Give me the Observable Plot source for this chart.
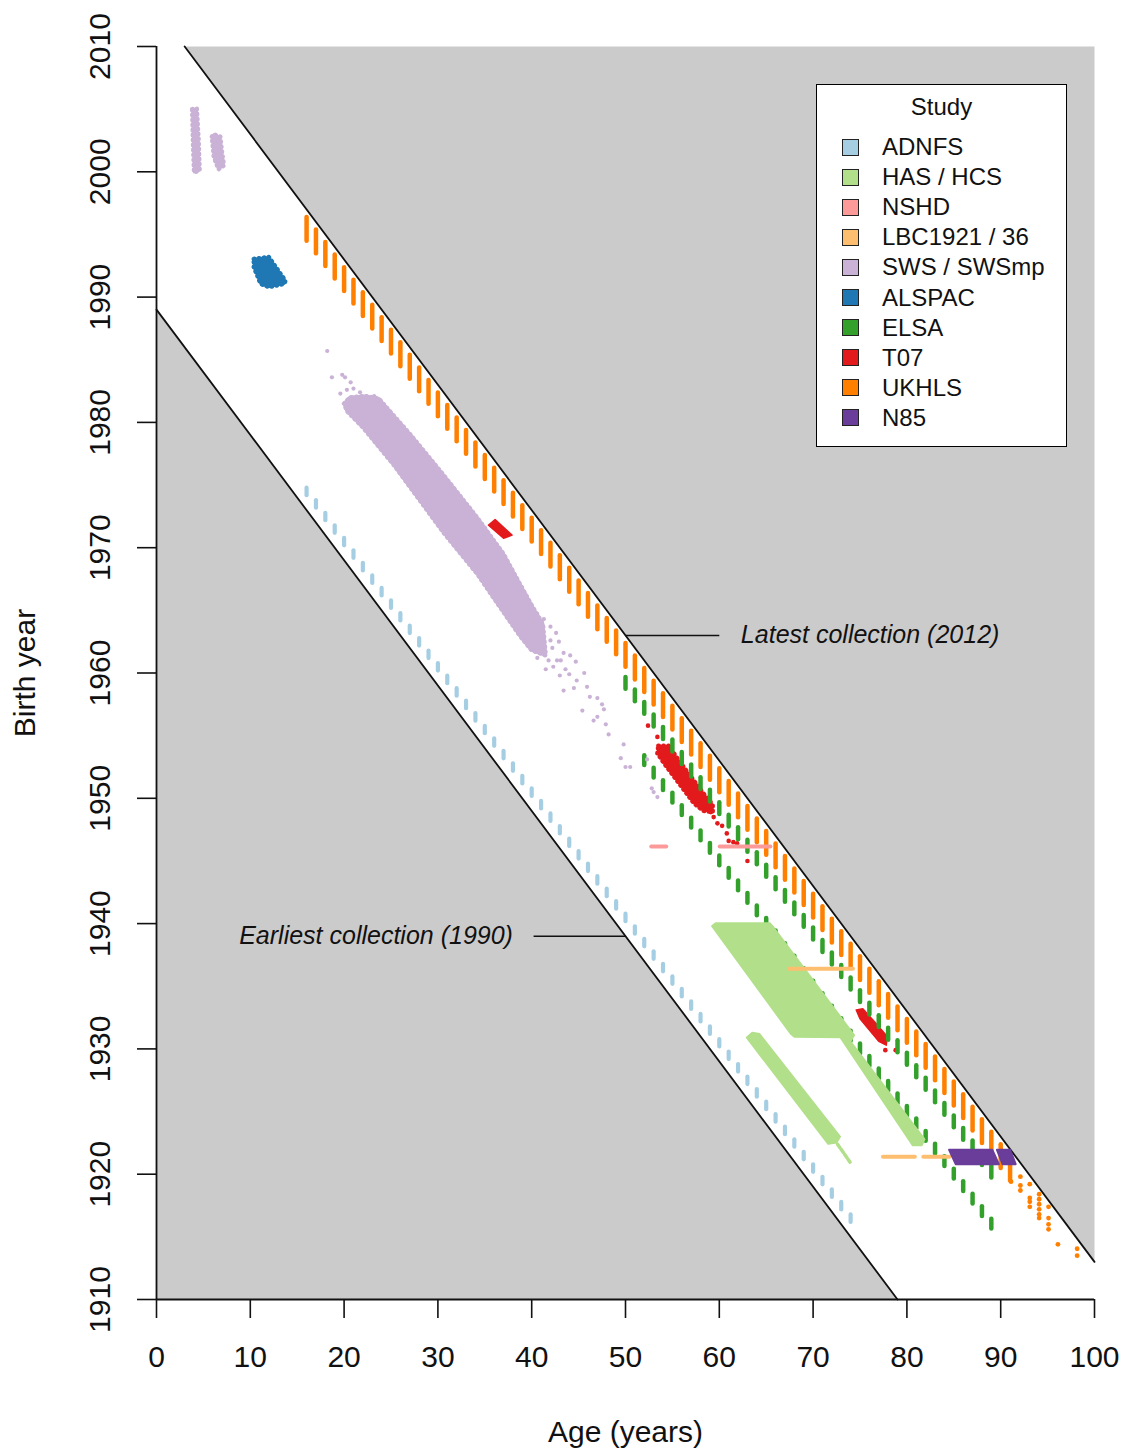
<!DOCTYPE html>
<html><head><meta charset="utf-8">
<script src="https://cdn.jsdelivr.net/npm/d3@7"></script>
<script src="https://cdn.jsdelivr.net/npm/@observablehq/plot@0.6"></script>
<style>
body{margin:0;background:#fff;font-family:"Liberation Sans",Arial,sans-serif;}
#wrap{position:relative;width:1123px;height:1449px;}
#legend{position:absolute;left:816px;top:84px;width:249px;height:361px;border:1.5px solid #000;background:#fff;box-sizing:content-box;}
#legend .title{position:absolute;left:0;width:100%;top:8px;text-align:center;font-size:24px;color:#111;}
#legend .item{position:absolute;left:25px;height:30px;display:flex;align-items:center;font-size:24px;color:#111;}
#legend .sw{width:15px;height:15px;border:1px solid #222;margin-right:23px;}
</style></head><body><div id="wrap"></div>
<script>
// ---- studies & colours ----
const studies = ["ADNFS","HAS / HCS","NSHD","LBC1921 / 36","SWS / SWSmp","ALSPAC","ELSA","T07","UKHLS","N85"];
const studyColors = ["#a6cee3","#b2df8a","#fb9a99","#fdbf6f","#cab2d6","#1f78b4","#33a02c","#e31a1c","#ff7f00","#6a3d9a"];
const col = Object.fromEntries(studies.map((s,i)=>[s,studyColors[i]]));

// ---- axes ----
const xTicks = [0,10,20,30,40,50,60,70,80,90,100];
const yTicks = [1910,1920,1930,1940,1950,1960,1970,1980,1990,2000,2010];

// ---- collection boundary lines (age, birth year) ----
const earliestLine = [[0,1989],[79,1910]];
const latestLine = [[3,2010],[100,1913]];
const greyLower = [[0,1989],[79,1910],[0,1910]];
const greyUpper = [[3,2010],[100,1913],[100,2010]];

// ---- dash studies: ages interviewed and the collection window (birth year + age) ----
const ukhlsAges = [16,17,18,19,20,21,22,23,24,25,26,27,28,29,30,31,32,33,34,35,36,37,38,39,40,41,42,43,44,45,46,47,48,49,50,51,52,53,54,55,56,57,58,59,60,61,62,63,64,65,66,67,68,69,70,71,72,73,74,75,76,77,78,79,80,81,82,83,84,85,86,87,88,89,90,91];
const ukhlsWindow = [2010.45, 2012.35];
const adnfsAges = [16,17,18,19,20,21,22,23,24,25,26,27,28,29,30,31,32,33,34,35,36,37,38,39,40,41,42,43,44,45,46,47,48,49,50,51,52,53,54,55,56,57,58,59,60,61,62,63,64,65,66,67,68,69,70,71,72,73,74];
const adnfsWindow = [1990.15, 1990.75];
const elsaLateAges = [50,51,52,53,54,55,56,57,58,59,60,61,62,63,64,65,66,67,68,69,70,71,72,73,74,75,76,77,78,79,80,81,82,83,84,85,86,87,88,89];
const elsaLateWindow = [2008.7, 2009.65];
const elsaEarlyAges = [52,53,54,55,56,57,58,59,60,61,62,63,64,65,66,67,68,69,70,71,72,73,74,75,76,77,78,79,80,81,82,83,84,85,86,87,88,89];
const elsaEarlyWindow = [2004.62, 2005.4];

// UKHLS oldest respondents (age, birth year)
const ukhlsOldDots = [[91.1,1919.4],[92.1,1919.8],[92.1,1919.1],[92.1,1918.7],[93.1,1919.2],[93.1,1918.1],[93.1,1917.8],[93.1,1917.4],[94.1,1918.4],[94.1,1918.0],[94.1,1917.6],[94.1,1917.2],[94.1,1916.8],[94.1,1916.5],[95.1,1917.4],[95.1,1916.5],[95.1,1916.0],[95.1,1915.6],[96.1,1914.4],[98.15,1914.05],[98.15,1913.5]];

// ---- polygons (age, birth year) ----
const hasMain = [[59.2,1939.8],[59.6,1940.05],[65.4,1940.05],[65.8,1939.7],[74.4,1931.1],[74.0,1930.6],[81.9,1922.8],[81.6,1922.3],[80.6,1922.3],[72.9,1930.9],[68.0,1930.95],[67.6,1931.2]];
const hasLower = [[62.9,1930.9],[63.5,1931.3],[64.3,1931.2],[72.9,1923.0],[72.5,1922.5],[71.6,1922.4]];
const hasLowerTail = [[72.6,1922.4],[74.0,1920.9]];
const swsDense = [[20.0,1981.5],[20.6,1982.0],[22.3,1982.1],[23.7,1981.9],[27.1,1979.0],[30.6,1975.8],[34.2,1972.4],[37.0,1969.5],[38.6,1967.3],[40.0,1965.4],[41.2,1963.9],[41.5,1961.4],[40.0,1961.8],[38.8,1962.9],[36.3,1965.6],[34.2,1967.9],[30.6,1971.2],[25.3,1976.6],[22.0,1979.6],[20.3,1980.9]];
const swsChildA = [[3.8,2005.0],[4.3,2005.05],[4.5,2002.5],[4.6,2000.1],[4.0,1999.95],[3.9,2002.0]];
const swsChildB = [[5.9,2002.8],[6.1,2003.0],[6.8,2002.8],[7.0,2001.5],[7.2,2000.5],[6.6,2000.2],[6.1,2001.2]];
const swsDots = [[18.2,1985.7],[18.7,1983.6],[19.8,1983.8],[20.1,1983.6],[20.7,1983.2],[21.0,1982.7],[21.7,1982.4],[21.9,1982.1],[22.6,1981.8],[23.2,1982.1],[19.6,1982.3],[20.3,1982.6],
  [39.2,1966.1],[39.9,1965.3],[40.6,1964.7],[41.3,1964.3],[42.0,1963.7],[42.9,1962.5],[43.4,1961.6],[42.0,1962.6],[42.7,1961.0],[43.6,1960.3],[44.7,1960.9],[45.6,1960.0],[44.8,1959.4],[43.4,1958.6],[44.5,1958.8],[45.9,1958.9],[47.0,1958.0],[47.5,1957.5],[47.7,1957.1],[45.4,1957.0],[46.6,1956.2],[47.0,1956.5],[47.9,1955.9],[48.2,1955.1],[49.8,1954.3],[49.5,1953.2],[50.0,1952.5],[50.5,1952.5],[52.3,1953.1],[52.8,1950.8],[53.4,1950.1],[53.0,1950.5],
  [41.8,1961.0],[42.3,1960.5],[41.5,1960.3],[43.0,1959.8],[40.6,1961.2],[44.0,1959.9],[46.2,1958.1],[44.1,1961.4],[42.6,1963.2],[39.6,1963.8],[42.2,1962.0],[41.0,1962.9],[43.1,1961.0],[40.1,1964.0]];
const alspac = [[10.37,1993.05],[11.97,1993.2],[13.75,1991.3],[13.6,1991.05],[11.97,1990.8],[11.1,1991.05],[10.37,1992.4]];
const t07Young = [[35.4,1971.8],[36.1,1972.25],[37.9,1971.0],[37.0,1970.75]];
const t07Mid = [[53.5,1954.2],[54.6,1954.2],[55.8,1952.9],[57.5,1951.2],[58.5,1950.2],[59.3,1949.5],[59.3,1948.9],[58.3,1949.0],[57.3,1949.6],[55.5,1951.4],[54.1,1952.8],[53.4,1953.6]];
const t07Old = [[74.6,1933.1],[75.3,1933.2],[76.5,1932.2],[77.9,1931.0],[77.8,1930.3],[77.0,1930.6],[75.0,1932.4]];
const t07Dots = [[52.4,1955.8],[53.4,1954.9],[53.7,1954.1],[59.1,1948.9],[59.4,1948.5],[59.8,1948.0],[60.3,1947.8],[60.8,1947.2],[61.0,1946.6],[61.5,1946.5],[61.9,1946.4],[63.0,1945.0],[77.7,1929.9],[78.8,1929.9]];
const n85A = [[84.5,1921.95],[89.1,1921.95],[89.8,1920.8],[85.2,1920.8]];
const n85B = [[89.6,1921.95],[91.0,1921.95],[91.6,1920.8],[90.2,1920.8]];

// ---- horizontal single-cohort studies: [birth year, age from, age to] ----
const nshdSegs = [[1946.15,52.8,54.4],[1946.15,60.1,65.5]];
const lbcSegs = [[1936.4,67.5,74.3],[1921.4,77.5,80.9],[1921.4,81.8,84.6]];

// ---- annotations ----
const latestNote = [{text:"Latest collection (2012)", x:62.3, y:1963, x1:50, x2:60}];
const earliestNote = [{text:"Earliest collection (1990)", x:38.0, y:1939, x1:40.2, x2:50}];

// ---- build tables ----
function dashes(ages, w){ return ages.map(a=>({age:a, b1:w[0]-a, b2:w[1]-a})); }
function poly(pts){ const p = pts.map(([age,birth])=>({age,birth})); p.push({...p[0]}); return p; }
function pts(arr){ return arr.map(([age,birth])=>({age,birth})); }
function segs(arr){ return arr.map(([b,a1,a2])=>({birth:b,a1,a2})); }

const polyMark = (p, color, sw=1.5) => Plot.line(poly(p), {x:"age", y:"birth", fill:color, stroke:color, strokeWidth:sw, strokeLinejoin:"round"});
const fuzzyEdge = (p, color) => Plot.line(poly(p), {x:"age", y:"birth", stroke:color, strokeWidth:4.5, strokeLinecap:"round", strokeDasharray:"0.5,4.5"});
const dashMark = (ages, w, color, sw) => Plot.ruleX(dashes(ages,w), {x:"age", y1:"b1", y2:"b2", stroke:color, strokeWidth:sw, strokeLinecap:"round"});

const noteText = {fontSize:25, fontStyle:"italic", fill:"#111", lineAnchor:"middle"};

const chart = Plot.plot({
  width:1123, height:1449,
  marginLeft:156, marginRight:29, marginTop:46, marginBottom:150,
  x:{domain:[0,100], axis:null},
  y:{domain:[1910,2010], axis:null},
  style:{fontFamily:'"Liberation Sans", Arial, sans-serif', background:"#fff", overflow:"visible"},
  marks:[
    polyMark(greyLower, "#cbcbcb", 0),
    polyMark(greyUpper, "#cbcbcb", 0),
    Plot.line(pts(earliestLine), {x:"age", y:"birth", stroke:"#111", strokeWidth:1.8}),
    Plot.line(pts(latestLine), {x:"age", y:"birth", stroke:"#111", strokeWidth:1.8}),
    dashMark(adnfsAges, adnfsWindow, col["ADNFS"], 4.2),
    polyMark(t07Young, col["T07"]),
    polyMark(t07Mid, col["T07"]),
    fuzzyEdge(t07Mid, col["T07"]),
    polyMark(t07Old, col["T07"]),
    Plot.dot(pts(t07Dots), {x:"age", y:"birth", r:2.3, fill:col["T07"]}),
    dashMark(elsaLateAges, elsaLateWindow, col["ELSA"], 4.5),
    dashMark(elsaEarlyAges, elsaEarlyWindow, col["ELSA"], 4.5),
    polyMark(hasMain, col["HAS / HCS"]),
    polyMark(hasLower, col["HAS / HCS"]),
    Plot.line(pts(hasLowerTail), {x:"age", y:"birth", stroke:col["HAS / HCS"], strokeWidth:3.5, strokeDasharray:"4,2"}),
    polyMark(swsDense, col["SWS / SWSmp"], 3),
    fuzzyEdge(swsDense, col["SWS / SWSmp"]),
    polyMark(swsChildA, col["SWS / SWSmp"], 2),
    fuzzyEdge(swsChildA, col["SWS / SWSmp"]),
    polyMark(swsChildB, col["SWS / SWSmp"], 2),
    fuzzyEdge(swsChildB, col["SWS / SWSmp"]),
    Plot.dot(pts(swsDots), {x:"age", y:"birth", r:2.1, fill:col["SWS / SWSmp"]}),
    polyMark(alspac, col["ALSPAC"], 2),
    fuzzyEdge(alspac, col["ALSPAC"]),
    dashMark(ukhlsAges, ukhlsWindow, col["UKHLS"], 4.5),
    Plot.dot(pts(ukhlsOldDots), {x:"age", y:"birth", r:2.4, fill:col["UKHLS"]}),
    Plot.ruleY(segs(nshdSegs), {y:"birth", x1:"a1", x2:"a2", stroke:col["NSHD"], strokeWidth:4, strokeLinecap:"round"}),
    Plot.ruleY(segs(lbcSegs), {y:"birth", x1:"a1", x2:"a2", stroke:col["LBC1921 / 36"], strokeWidth:4, strokeLinecap:"round"}),
    polyMark(n85A, col["N85"], 2),
    polyMark(n85B, col["N85"], 2),
    // annotations
    Plot.link(latestNote, {x1:"x1", x2:"x2", y1:"y", y2:"y", stroke:"#111", strokeWidth:1.5}),
    Plot.link(earliestNote, {x1:"x1", x2:"x2", y1:"y", y2:"y", stroke:"#111", strokeWidth:1.5}),
    Plot.text(latestNote, {x:"x", y:"y", text:"text", textAnchor:"start", ...noteText}),
    Plot.text(earliestNote, {x:"x", y:"y", text:"text", textAnchor:"end", ...noteText}),
    // axes
    Plot.axisX({ticks:xTicks, tickSize:19, tickFormat:()=>"", label:null, stroke:"#111", strokeWidth:1.6}),
    Plot.axisY({ticks:yTicks, tickSize:19, tickFormat:()=>"", label:null, stroke:"#111", strokeWidth:1.6}),
    Plot.ruleX([0], {y1:1910, y2:2010, stroke:"#111", strokeWidth:1.8}),
    Plot.ruleY([1910], {x1:0, x2:100, stroke:"#111", strokeWidth:1.8}),
    Plot.text(xTicks, {x:d=>d, text:d=>String(d), frameAnchor:"bottom", dy:58, lineAnchor:"middle", textAnchor:"middle", fontSize:30, fill:"#111"}),
    Plot.text(yTicks, {y:d=>d, text:d=>String(d), frameAnchor:"left", dx:-56, rotate:-90, lineAnchor:"middle", textAnchor:"middle", fontSize:30, fill:"#111"}),
    Plot.text(["Age (years)"], {frameAnchor:"bottom", dy:133, lineAnchor:"middle", textAnchor:"middle", fontSize:30, fill:"#111"}),
    Plot.text(["Birth year"], {frameAnchor:"left", dx:-131, rotate:-90, lineAnchor:"middle", textAnchor:"middle", fontSize:30, fill:"#111"})
  ]
});
const wrap = document.getElementById("wrap");
wrap.appendChild(chart);

// legend
const lg = document.createElement("div");
lg.id = "legend";
lg.innerHTML = `<div class="title">Study</div>` + studies.map((s,i)=>
  `<div class="item" style="top:${47+i*30.1}px"><div class="sw" style="background:${studyColors[i]}"></div>${s}</div>`).join("");
wrap.appendChild(lg);
</script></body></html>
